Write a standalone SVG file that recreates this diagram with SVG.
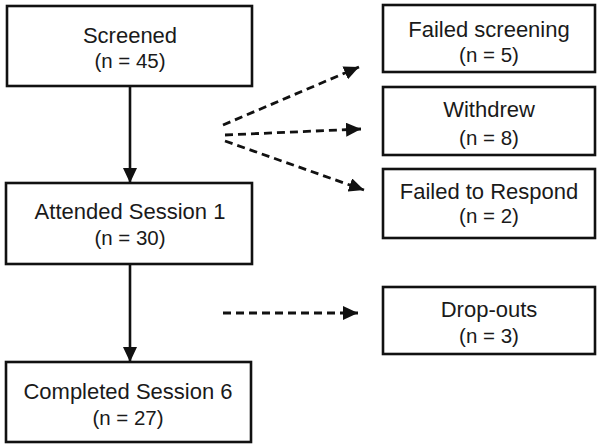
<svg xmlns="http://www.w3.org/2000/svg" width="601" height="447" viewBox="0 0 601 447">
<defs>
<style>
.box{fill:#fff;stroke:#111;stroke-width:2.6}
.t{font-family:"Liberation Sans",Arial,sans-serif;font-size:22px;fill:#1a1a1a;text-anchor:middle}
.n{font-family:"Liberation Sans",Arial,sans-serif;font-size:20.5px;fill:#1a1a1a;text-anchor:middle}
.solid{stroke:#111;stroke-width:2.6;fill:none}
.dash{stroke:#111;stroke-width:2.8;fill:none;stroke-dasharray:8 5}
</style>
<marker id="ah" viewBox="0 0 15 14" refX="15" refY="7" markerWidth="15" markerHeight="14" markerUnits="userSpaceOnUse" orient="auto">
<path d="M0,0 L15,7 L0,14 Z" fill="#111"/>
</marker>
</defs>
<rect width="601" height="447" fill="#fff"/>
<g id="connectors">
<line class="solid" x1="130" y1="86" x2="130" y2="183" marker-end="url(#ah)"/>
<line class="solid" x1="130" y1="264" x2="130" y2="362" marker-end="url(#ah)"/>
<line class="dash" x1="223" y1="125" x2="359" y2="67" marker-end="url(#ah)"/>
<line class="dash" x1="225" y1="135" x2="361" y2="129" marker-end="url(#ah)"/>
<line class="dash" x1="225" y1="141" x2="364" y2="190" marker-end="url(#ah)"/>
<line class="dash" x1="223" y1="313" x2="358" y2="313" marker-end="url(#ah)"/>
</g>
<g id="screened">
<rect class="box" x="7" y="6" width="245" height="80"/>
<text class="t" x="130" y="43">Screened</text>
<text class="n" x="130" y="68">(n = 45)</text>
</g>
<g id="attended">
<rect class="box" x="6" y="183" width="246" height="81"/>
<text class="t" x="130" y="219">Attended Session 1</text>
<text class="n" x="130" y="245">(n = 30)</text>
</g>
<g id="completed">
<rect class="box" x="6" y="362" width="245" height="80"/>
<text class="t" x="128" y="399">Completed Session 6</text>
<text class="n" x="128" y="425">(n = 27)</text>
</g>
<g id="failed-screening">
<rect class="box" x="383" y="5" width="212" height="67"/>
<text class="t" x="489" y="37">Failed screening</text>
<text class="n" x="489" y="62">(n = 5)</text>
</g>
<g id="withdrew">
<rect class="box" x="383" y="87" width="212" height="68"/>
<text class="t" x="489" y="117">Withdrew</text>
<text class="n" x="489" y="145">(n = 8)</text>
</g>
<g id="failed-respond">
<rect class="box" x="383" y="169" width="212" height="69"/>
<text class="t" x="489" y="199">Failed to Respond</text>
<text class="n" x="489" y="223">(n = 2)</text>
</g>
<g id="dropouts">
<rect class="box" x="383" y="287" width="212" height="67"/>
<text class="t" x="489" y="317">Drop-outs</text>
<text class="n" x="489" y="343">(n = 3)</text>
</g>
</svg>
